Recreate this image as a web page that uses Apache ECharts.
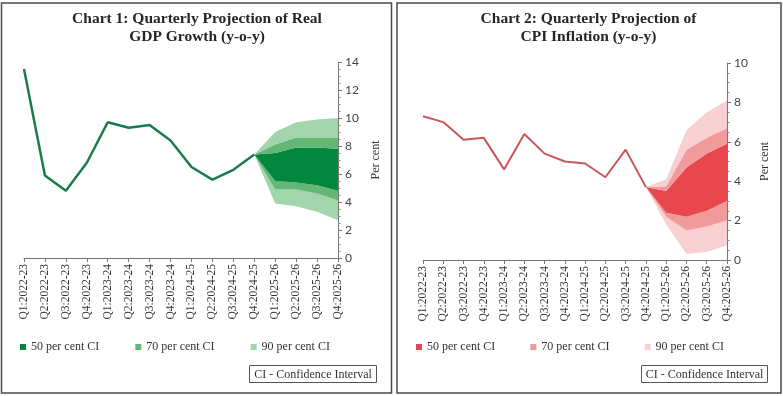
<!DOCTYPE html>
<html><head><meta charset="utf-8">
<script src="https://cdn.jsdelivr.net/npm/echarts@6/dist/echarts.min.js"></script>
<style>
html,body{margin:0;padding:0;background:#fff;width:783px;height:396px;overflow:hidden}
#c1{position:absolute;left:0;top:0;width:394px;height:396px}
#c2{position:absolute;left:394px;top:0;width:389px;height:396px}
</style>
</head><body><div id="c1"></div><div id="c2"></div>
<script>
const quarters = ['Q1:2022-23','Q2:2022-23','Q3:2022-23','Q4:2022-23','Q1:2023-24','Q2:2023-24','Q3:2023-24','Q4:2023-24','Q1:2024-25','Q2:2024-25','Q3:2024-25','Q4:2024-25','Q1:2025-26','Q2:2025-26','Q3:2025-26','Q4:2025-26'];

// Chart 1: Real GDP growth
const gdpActual  = [13.5,5.9,4.8,6.8,9.7,9.3,9.5,8.4,6.5,5.6,6.3,7.4,null,null,null,null];
const gdpLower90 = [null,null,null,null,null,null,null,null,null,null,null,7.4,3.9,3.7,3.3,2.7];
const gdpLower70 = [null,null,null,null,null,null,null,null,null,null,null,7.4,4.9,4.9,4.6,4.1];
const gdpLower50 = [null,null,null,null,null,null,null,null,null,null,null,7.4,5.5,5.4,5.2,4.8];
const gdpUpper50 = [null,null,null,null,null,null,null,null,null,null,null,7.4,7.5,7.9,7.9,7.8];
const gdpUpper70 = [null,null,null,null,null,null,null,null,null,null,null,7.4,8.1,8.6,8.6,8.6];
const gdpUpper90 = [null,null,null,null,null,null,null,null,null,null,null,7.4,9.0,9.7,9.9,10.0];

// Chart 2: CPI inflation
const cpiActual  = [7.3,7.0,6.1,6.2,4.6,6.4,5.4,5.0,4.9,4.2,5.6,3.7,null,null,null,null];
const cpiLower90 = [null,null,null,null,null,null,null,null,null,null,null,3.7,1.8,0.3,0.4,0.75];
const cpiLower70 = [null,null,null,null,null,null,null,null,null,null,null,3.7,2.2,1.5,1.7,2.0];
const cpiLower50 = [null,null,null,null,null,null,null,null,null,null,null,3.7,2.4,2.2,2.5,3.0];
const cpiUpper50 = [null,null,null,null,null,null,null,null,null,null,null,3.7,3.5,4.7,5.4,5.9];
const cpiUpper70 = [null,null,null,null,null,null,null,null,null,null,null,3.7,3.75,5.6,6.2,6.7];
const cpiUpper90 = [null,null,null,null,null,null,null,null,null,null,null,3.7,4.1,6.6,7.5,8.1];

const legendNames = ['50 per cent CI','70 per cent CI','90 per cent CI'];
const serif = '"Liberation Serif", "DejaVu Serif", serif';
const sans = 'Lato, "Liberation Sans", sans-serif';

function diff(a, b) {
  return a.map((v, i) => (v == null || b[i] == null) ? null : Math.round((v - b[i]) * 1000) / 1000);
}

function build(cfg) {
  const bandSeries = (name, data, color) => ({
    name: name, type: 'line', stack: 'fan', data: data, symbol: 'none',
    lineStyle: {width: 0, opacity: 0}, itemStyle: {color: color},
    areaStyle: {color: color, opacity: 1}, z: 2, silent: true
  });
  return {
    animation: false,
    graphic: [
      {type: 'rect', shape: {x: cfg.box[0], y: cfg.box[1], width: cfg.box[2], height: cfg.box[3]},
       style: {fill: 'none', stroke: '#4a4a4a', lineWidth: 1.5}},
      {type: 'rect', shape: {x: cfg.ci[0], y: cfg.ci[1], width: cfg.ci[2], height: cfg.ci[3]},
       style: {fill: '#fff', stroke: '#555', lineWidth: 1}},
      {type: 'text', x: cfg.ci[0] + cfg.ci[2] / 2, y: cfg.ci[1] + cfg.ci[3] / 2 + 0.5,
       style: {text: 'CI - Confidence Interval', font: '12px ' + serif, fill: '#333', align: 'center', verticalAlign: 'middle'}}
    ],
    title: {
      text: cfg.title, left: 'center', top: 10, padding: 0,
      textStyle: {fontFamily: serif, fontSize: 15.5, fontWeight: 'bold', color: '#262626', lineHeight: 18}
    },
    legend: {
      data: legendNames, left: cfg.legendLeft, top: 341, padding: 0, icon: 'rect', itemWidth: 6, itemHeight: 6,
      itemGap: cfg.legendGap, selectedMode: false,
      textStyle: {fontFamily: serif, fontSize: 12, color: '#333'}
    },
    grid: {left: cfg.grid[0], top: cfg.grid[1], width: cfg.grid[2], height: cfg.grid[3]},
    xAxis: {
      type: 'category', data: quarters, boundaryGap: false,
      axisLine: {lineStyle: {color: '#777', width: 1}},
      axisTick: {show: true, length: 4, interval: 0, lineStyle: {color: '#777'}},
      axisLabel: {rotate: 90, interval: 0, margin: 6, fontFamily: serif, fontSize: 11.5, color: '#333'},
      splitLine: {show: false}
    },
    yAxis: {
      type: 'value', position: 'right', min: 0, max: cfg.ymax, interval: 2,
      axisLine: {show: true, lineStyle: {color: '#777', width: 1}},
      axisTick: {show: true, length: 4, lineStyle: {color: '#777'}},
      minorTick: {show: true, splitNumber: 4, length: 2.5, lineStyle: {color: '#888'}},
      axisLabel: {margin: 7, fontFamily: sans, fontSize: 12, color: '#444'},
      splitLine: {show: false},
      name: 'Per cent', nameLocation: 'middle', nameRotate: 90, nameGap: 32,
      nameTextStyle: {fontFamily: serif, fontSize: 12, color: '#333'}
    },
    series: [
      {name: 'base', type: 'line', stack: 'fan', data: cfg.l90, symbol: 'none', lineStyle: {width: 0, opacity: 0}, silent: true},
      bandSeries('90 per cent CI', diff(cfg.l70, cfg.l90), cfg.c90),
      bandSeries('70 per cent CI', diff(cfg.l50, cfg.l70), cfg.c70),
      bandSeries('50 per cent CI', diff(cfg.u50, cfg.l50), cfg.c50),
      bandSeries('70 per cent CI', diff(cfg.u70, cfg.u50), cfg.c70),
      bandSeries('90 per cent CI', diff(cfg.u90, cfg.u70), cfg.c90),
      {name: 'actual', type: 'line', data: cfg.actual, symbol: 'none', z: 5,
       lineStyle: {color: cfg.lineColor, width: cfg.lineWidth}, itemStyle: {color: cfg.lineColor}}
    ]
  };
}

const chart1 = echarts.init(document.getElementById('c1'), null, {renderer: 'canvas'});
chart1.setOption(build({
  title: 'Chart 1: Quarterly Projection of Real\nGDP Growth (y-o-y)',
  box: [1.5, 3, 390, 390], ci: [249.5, 365.5, 127, 17],
  grid: [24, 62, 314, 196], ymax: 14,
  legendLeft: 20, legendGap: 36,
  actual: gdpActual, l90: gdpLower90, l70: gdpLower70, l50: gdpLower50,
  u50: gdpUpper50, u70: gdpUpper70, u90: gdpUpper90,
  c50: '#03873f', c70: '#63b673', c90: '#a2d5ab', lineColor: '#1d7b4b', lineWidth: 2.5
}));

const chart2 = echarts.init(document.getElementById('c2'), null, {renderer: 'canvas'});
chart2.setOption(build({
  title: 'Chart 2: Quarterly Projection of\nCPI Inflation (y-o-y)',
  box: [3, 3, 384, 390], ci: [247.5, 365.5, 126, 17],
  grid: [29, 63, 304, 197], ymax: 10,
  legendLeft: 22, legendGap: 35,
  actual: cpiActual, l90: cpiLower90, l70: cpiLower70, l50: cpiLower50,
  u50: cpiUpper50, u70: cpiUpper70, u90: cpiUpper90,
  c50: '#e8484d', c70: '#f09a9c', c90: '#f8d0d1', lineColor: '#c9575a', lineWidth: 2
}));
</script>
</body></html>
